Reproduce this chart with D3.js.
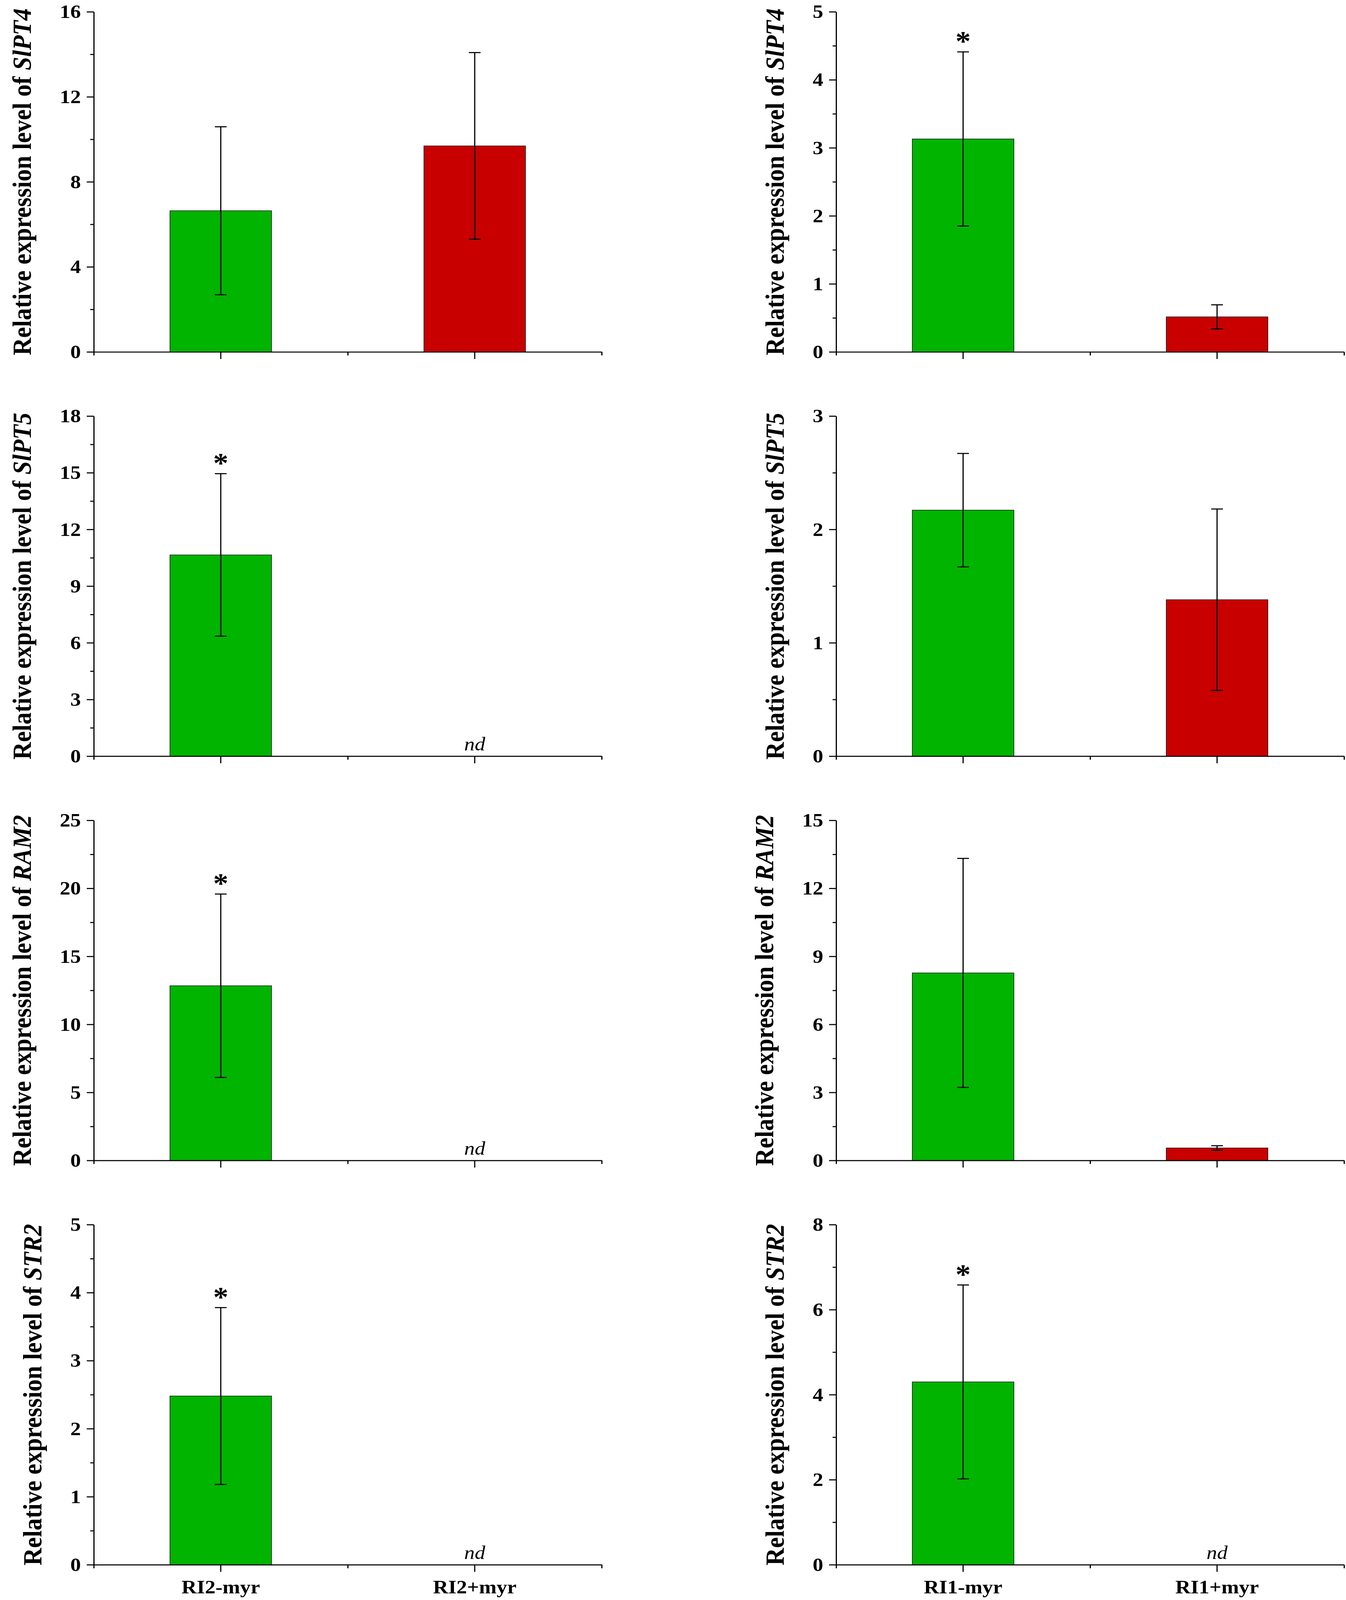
<!DOCTYPE html>
<html lang="en">
<head>
<meta charset="utf-8">
<script src="https://d3js.org/d3.v7.min.js"></script>
<style>
  html, body { margin: 0; padding: 0; background: #fff; overflow: hidden; }
  svg { display: block; width: 100vw; height: 100vh; }
  text { font-family: "Liberation Serif", "Times New Roman", serif; fill: #000; }
</style>
</head>
<body>
<script>
// genes, one per row
const genes = ["SlPT4", "SlPT5", "RAM2", "STR2"];

// left column: RI2
const ri2Groups = ["RI2-myr", "RI2+myr"];
const ri2Mean = [[6.64, 9.69], [10.65, null], [12.84, null], [2.48, null]];
const ri2Sd = [[3.95, 4.39], [4.3, null], [6.74, null], [1.3, null]];
const ri2Star = [[false, false], [true, false], [true, false], [true, false]];
const ri2YMax = [16, 18, 25, 5];
const ri2YStep = [4, 3, 5, 1];

// right column: RI1
const ri1Groups = ["RI1-myr", "RI1+myr"];
const ri1Mean = [[3.13, 0.515], [2.17, 1.38], [8.27, 0.55], [4.30, null]];
const ri1Sd = [[1.28, 0.177], [0.5, 0.8], [5.05, 0.1], [2.28, null]];
const ri1Star = [[true, false], [false, false], [false, false], [true, false]];
const ri1YMax = [5, 3, 15, 8];
const ri1YStep = [1, 1, 3, 2];

const barColors = ["#00b400", "#c80000"];

const W = 3445, H = 4488;
const colX = [240, 2140];
const plotW = 1300, plotH = 954;
const rowTop = 33, rowStep = 1134;

// figure is laid out in 3445x4488 units and stretched to fill the window
const svg = d3.select("body").append("svg")
  .attr("viewBox", "0 0 " + W + " " + H)
  .attr("preserveAspectRatio", "none");

function panel(col, row, groups, means, sds, stars, yMax, yStep) {
  const x0 = colX[col], y0 = rowTop + row * rowStep;
  const g = svg.append("g").attr("transform", "translate(" + x0 + "," + y0 + ")");

  const x = d3.scaleBand().domain(groups).range([0, plotW])
    .paddingInner(0.6).paddingOuter(0.3);
  const xLin = d3.scaleLinear().domain([0, 1]).range([0, plotW]);
  const y = d3.scaleLinear().domain([0, yMax]).range([plotH, 0]);

  const data = groups.map((k, i) => ({ k: k, m: means[i], sd: sds[i], star: stars[i], c: barColors[i] }));

  // bars
  g.selectAll("rect.bar").data(data.filter(d => d.m != null)).enter().append("rect")
    .attr("class", "bar")
    .attr("x", d => x(d.k)).attr("width", x.bandwidth())
    .attr("y", d => y(d.m)).attr("height", d => y(0) - y(d.m))
    .attr("fill", d => d.c).attr("stroke", "#111").attr("stroke-width", 1.5);

  // error bars
  const eb = g.selectAll("g.err").data(data.filter(d => d.m != null)).enter().append("g")
    .attr("class", "err").attr("stroke", "#000").attr("stroke-width", 3);
  const cx = d => x(d.k) + x.bandwidth() / 2;
  eb.append("line").attr("x1", cx).attr("x2", cx)
    .attr("y1", d => y(d.m + d.sd)).attr("y2", d => y(d.m - d.sd));
  eb.append("line").attr("x1", d => cx(d) - 15).attr("x2", d => cx(d) + 15)
    .attr("y1", d => y(d.m + d.sd)).attr("y2", d => y(d.m + d.sd));
  eb.append("line").attr("x1", d => cx(d) - 15).attr("x2", d => cx(d) + 15)
    .attr("y1", d => y(d.m - d.sd)).attr("y2", d => y(d.m - d.sd));

  // significance stars
  g.selectAll("text.star").data(data.filter(d => d.star)).enter().append("text")
    .attr("class", "star")
    .attr("x", cx).attr("y", d => y(d.m + d.sd) - 4)
    .attr("text-anchor", "middle").attr("font-size", 78).attr("font-weight", "bold")
    .text("*");

  // not detected
  g.selectAll("text.nd").data(data.filter(d => d.m == null)).enter().append("text")
    .attr("class", "nd")
    .attr("x", cx).attr("y", plotH - 16)
    .attr("text-anchor", "middle").attr("font-size", 54).attr("font-style", "italic")
    .text("nd");

  // y axis: major + minor ticks
  const majors = d3.range(0, yMax + yStep / 2, yStep);
  const minors = d3.range(yStep / 2, yMax, yStep);
  const yAxis = g.append("g")
    .call(d3.axisLeft(y).tickValues(majors).tickSize(18).tickSizeOuter(0).tickPadding(15).tickFormat(d3.format("d")));
  g.append("g")
    .call(d3.axisLeft(y).tickValues(minors).tickSize(9).tickSizeOuter(0).tickFormat(""))
    .select(".domain").remove();

  // x axis: category ticks + minor ticks at edges and middle
  const xAxis = g.append("g").attr("transform", "translate(0," + plotH + ")")
    .call(d3.axisBottom(x).tickSize(20).tickSizeOuter(0).tickPadding(22)
      .tickFormat(row === genes.length - 1 ? (d => d) : ""));
  g.append("g").attr("transform", "translate(0," + plotH + ")")
    .call(d3.axisBottom(xLin).tickValues([0, 0.5, 1]).tickSize(10).tickFormat(""))
    .select(".domain").remove();

  g.selectAll(".domain").attr("stroke-width", 3);
  g.selectAll(".tick line").attr("stroke-width", 3);
  yAxis.selectAll("text").attr("font-size", 54).attr("font-weight", "bold")
    .attr("font-family", "'Liberation Serif', 'Times New Roman', serif");
  xAxis.selectAll("text").attr("font-size", 54).attr("font-weight", "bold")
    .attr("font-family", "'Liberation Serif', 'Times New Roman', serif");

  // y axis title, placed left of the widest tick label
  let maxW = 0;
  yAxis.selectAll("text").each(function () { maxW = Math.max(maxW, this.getComputedTextLength()); });
  const tx = -18 - 15 - maxW - 74;
  const title = g.append("text")
    .attr("transform", "translate(" + tx + "," + (plotH / 2) + ") rotate(-90)")
    .attr("text-anchor", "middle").attr("font-size", 68).attr("font-weight", "bold");
  title.append("tspan").text("Relative expression level of ");
  title.append("tspan").attr("font-style", "italic").text(genes[row]);
}

genes.forEach((gene, r) => {
  panel(0, r, ri2Groups, ri2Mean[r], ri2Sd[r], ri2Star[r], ri2YMax[r], ri2YStep[r]);
  panel(1, r, ri1Groups, ri1Mean[r], ri1Sd[r], ri1Star[r], ri1YMax[r], ri1YStep[r]);
});
</script>
</body>
</html>
